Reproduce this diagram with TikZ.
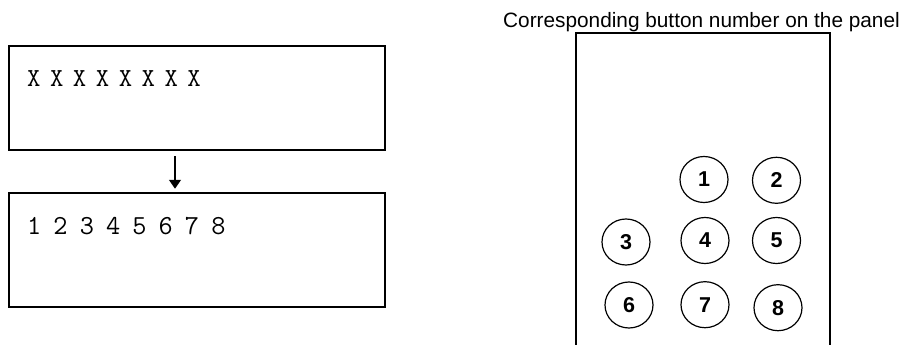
\documentclass[tikz,border=0pt]{standalone}
\usepackage{fontspec}
\newfontfamily\sansf{Liberation Sans}
\usetikzlibrary{arrows.meta,shapes.geometric}
\newcommand{\pitchX}[1]{\makebox[22.9pt][l]{#1}}
\newcommand{\pitchD}[1]{\makebox[26.3pt][l]{#1}}
\tikzset{
  dispbox/.style={draw, line width=2.5pt, minimum width=376pt, inner sep=0pt},
  monotext/.style={anchor=base west, inner sep=0pt},
  btn/.style={draw, ellipse, line width=1.2pt, minimum width=48pt, minimum height=46pt, inner sep=0pt, font=\sansf\bfseries\fontsize{21.5}{24}\selectfont},
  flowarrow/.style={line width=1.4pt, -{Triangle[width=12pt,length=9pt]}},
}
\begin{document}
\begin{tikzpicture}[x=1pt,y=-1pt]
\useasboundingbox (0,0) rectangle (903,345);
% left display boxes
\node[dispbox, minimum height=104pt] (top) at (197,98) {};
\node[dispbox, minimum height=114pt] (bot) at (197,250) {};
\node[monotext, font=\ttfamily\fontsize{26}{30}\selectfont] (xs) at (27,87) {\pitchX{X}\pitchX{X}\pitchX{X}\pitchX{X}\pitchX{X}\pitchX{X}\pitchX{X}X};
\node[monotext, font=\ttfamily\fontsize{27.5}{32}\selectfont] (nums) at (27,234) {\pitchD{1}\pitchD{2}\pitchD{3}\pitchD{4}\pitchD{5}\pitchD{6}\pitchD{7}8};
\coordinate (ax) at (175,0);
\draw[flowarrow] ([yshift=-5pt]top.south -| ax) -- ([yshift=3pt]bot.north -| ax);
% panel
\node[anchor=base, inner sep=0pt, font=\sansf\fontsize{20.8}{24}\selectfont] (title) at (701.5,27.3) {Corresponding button number on the panel};
\coordinate (pbl) at (576,346);
\coordinate (ptl) at (576,33);
\coordinate (ptr) at (830,33);
\coordinate (pbr) at (830,346);
\draw[line width=2pt] (pbl) -- (ptl) -- (ptr) -- (pbr);
\node[btn] (b1) at (704,179.5) {1};
\node[btn] (b2) at (776.5,180.3) {2};
\node[btn] (b3) at (626,242) {3};
\node[btn] (b4) at (705,240.5) {4};
\node[btn] (b5) at (776.5,240.5) {5};
\node[btn] (b6) at (629,305) {6};
\node[btn] (b7) at (705,304.7) {7};
\node[btn] (b8) at (778,307.7) {8};
\end{tikzpicture}
\end{document}
